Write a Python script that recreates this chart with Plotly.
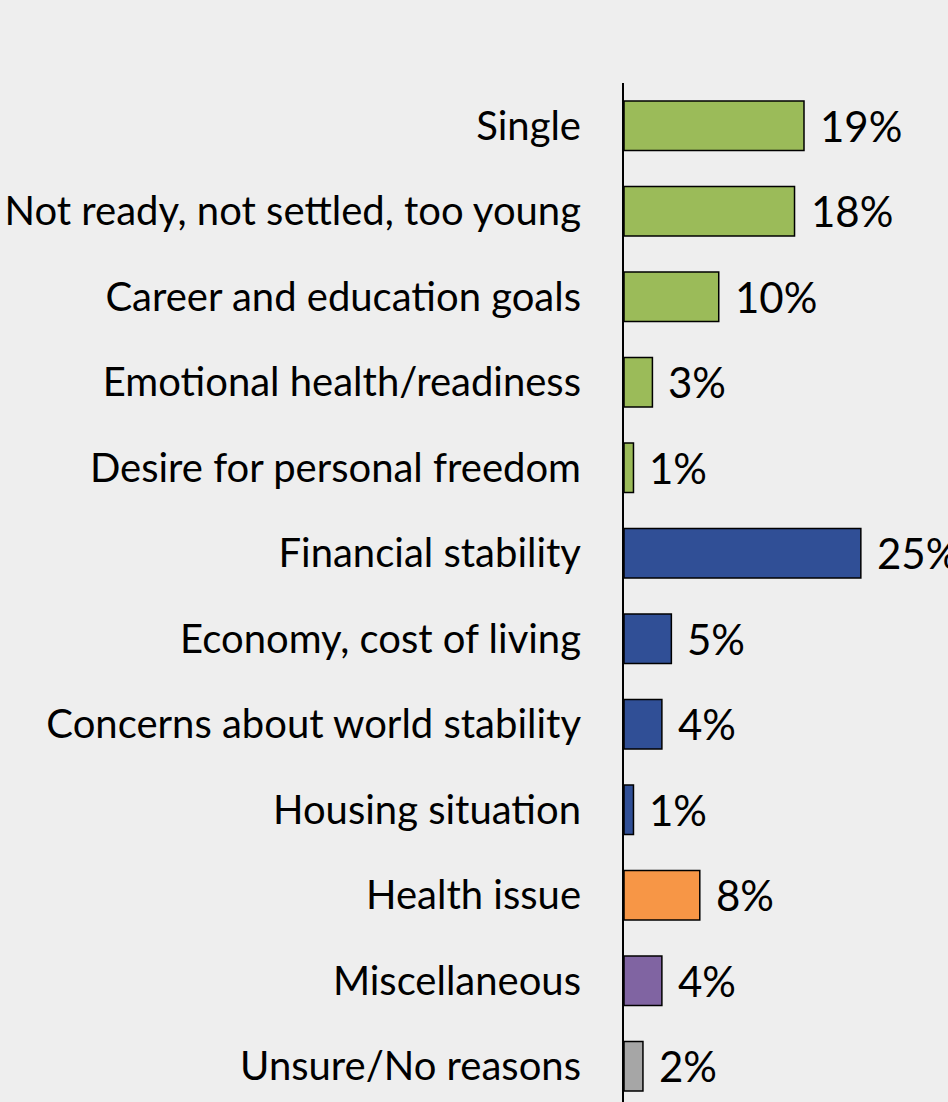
import plotly.graph_objects as go

# ========================== DATA ========================== #

reasons = [
    'Single',
    'Not ready, not settled, too young',
    'Career and education goals',
    'Emotional health/readiness',
    'Desire for personal freedom',
    'Financial stability',
    'Economy, cost of living',
    'Concerns about world stability',
    'Housing situation',
    'Health issue',
    'Miscellaneous',
    'Unsure/No reasons',
]
shares = [19, 18, 10, 3, 1, 25, 5, 4, 1, 8, 4, 2]
groups = ['personal'] * 5 + ['financial'] * 4 + ['health', 'misc', 'unsure']

GROUP_COLORS = {
    'personal': '#9BBB59',
    'financial': '#304F96',
    'health': '#F79646',
    'misc': '#8064A2',
    'unsure': '#A6A6A6',
}

BG = '#EEEEEE'
FONT = 'Lato'

# ========================== FIGURE ========================== #

fig = go.Figure(go.Bar(
    x=shares,
    y=reasons,
    orientation='h',
    width=0.58,
    marker=dict(
        color=[GROUP_COLORS[g] for g in groups],
        line=dict(color='#000000', width=1.5),
    ),
    hovertemplate='%{y}: %{x}%<extra></extra>',
))

# value labels right of each bar
for reason, share in zip(reasons, shares):
    fig.add_annotation(
        x=share, y=reason,
        text=f'{share}%',
        showarrow=False,
        xanchor='left', yanchor='middle',
        xshift=14,
        font=dict(family=FONT, size=42, color='#000000'),
    )

fig.update_xaxes(
    range=[0, 34.2],
    visible=False,
    showgrid=False,
    zeroline=False,
)
fig.update_yaxes(
    range=[len(reasons) - 0.582, -0.5],
    showline=True,
    linecolor='#000000',
    linewidth=2,
    showgrid=False,
    ticks='',
    ticklabelstandoff=33,
    tickfont=dict(family=FONT, size=40, color='#000000'),
)
fig.update_layout(
    width=948,
    height=1102,
    margin=dict(l=624, r=0, t=83, b=0, pad=0),
    paper_bgcolor=BG,
    plot_bgcolor=BG,
    showlegend=False,
    font=dict(family=FONT),
)

# drop the default page margin so the chart fills the window
fig.write_html(
    'out.html',
    config={'displayModeBar': False},
    post_script="document.body.style.margin='0';",
)
